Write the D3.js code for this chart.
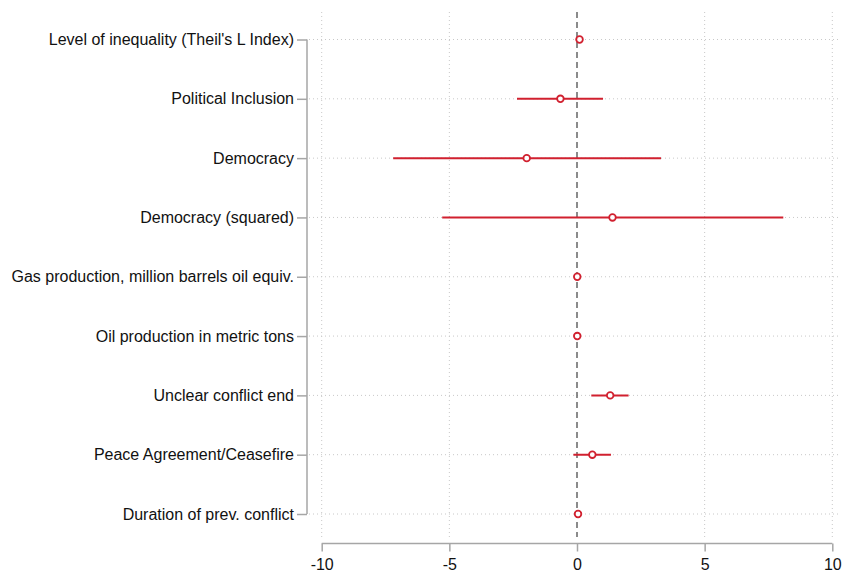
<!DOCTYPE html>
<html>
<head>
<meta charset="utf-8">
<script src="https://cdn.jsdelivr.net/npm/d3@7"></script>
<style>
  html, body { margin: 0; padding: 0; background: #fff; }
  svg { display: block; font-family: "Liberation Sans", Arial, Helvetica, sans-serif; }
</style>
</head>
<body>
<svg id="chart" width="843" height="573"></svg>
<script>
// Coefficient estimates with 95% confidence intervals
const variables = [
  "Level of inequality (Theil's L Index)",
  "Political Inclusion",
  "Democracy",
  "Democracy (squared)",
  "Gas production, million barrels oil equiv.",
  "Oil production in metric tons",
  "Unclear conflict end",
  "Peace Agreement/Ceasefire",
  "Duration of prev. conflict"
];
const estimates = [0.10, -0.65, -1.97, 1.39, 0.01, 0.01, 1.30, 0.60, 0.04];
const lowerCI   = [-0.05, -2.35, -7.20, -5.28, -0.02, -0.02, 0.56, -0.14, 0.00];
const upperCI   = [0.22, 1.02, 3.29, 8.08, 0.04, 0.04, 2.02, 1.33, 0.08];
const xTicks = [-10, -5, 0, 5, 10];

const svg = d3.select("#chart");
const plot = { left: 309, right: 838, top: 12, bottom: 537 };
const red = "#d1202f";
const gridColor = "#c8c8c8";
const axisColor = "#a6a6a6";
const labelSize = "16px";

const x = d3.scaleLinear().domain([-10, 10]).range([321.7, 832.3]);
const y = d3.scalePoint().domain(variables).range([39.5, 514]);

// grid: vertical
svg.append("g").selectAll("line")
  .data(xTicks.filter(d => d !== 0))
  .join("line")
  .attr("x1", d => x(d)).attr("x2", d => x(d))
  .attr("y1", plot.top).attr("y2", plot.bottom)
  .attr("stroke", gridColor).attr("stroke-width", 1)
  .attr("stroke-dasharray", "1,3");

// grid: horizontal
svg.append("g").selectAll("line")
  .data(variables)
  .join("line")
  .attr("x1", plot.left).attr("x2", plot.right)
  .attr("y1", d => y(d)).attr("y2", d => y(d))
  .attr("stroke", gridColor).attr("stroke-width", 1)
  .attr("stroke-dasharray", "1,3");

// reference line at zero
svg.append("line")
  .attr("x1", x(0)).attr("x2", x(0))
  .attr("y1", plot.top).attr("y2", plot.bottom)
  .attr("stroke", "#666").attr("stroke-width", 1.5)
  .attr("stroke-dasharray", "6,4");

// x axis
const xAxis = svg.append("g")
  .attr("transform", `translate(0,${543.5})`)
  .call(d3.axisBottom(x).tickValues(xTicks).tickSize(8).tickPadding(7).tickFormat(d3.format("d")));
xAxis.select(".domain").attr("stroke", axisColor).attr("stroke-width", 1.5)
  .attr("d", `M${x(-10)},0H${x(10)}`);
xAxis.selectAll(".tick line").attr("stroke", axisColor).attr("stroke-width", 1.5);
xAxis.selectAll(".tick text").attr("fill", "#111").style("font-size", labelSize)
  .text(d => d < 0 ? "-" + Math.abs(d) : d);

// y axis
const yAxis = svg.append("g")
  .attr("transform", `translate(${307},0)`)
  .call(d3.axisLeft(y).tickSize(10).tickPadding(3));
yAxis.select(".domain").attr("stroke", axisColor).attr("stroke-width", 1.5)
  .attr("d", `M0,${y(variables[0])}V${y(variables[variables.length - 1])}`);
yAxis.selectAll(".tick line").attr("stroke", axisColor).attr("stroke-width", 1.5);
yAxis.selectAll(".tick text").attr("fill", "#111").style("font-size", labelSize);

// confidence intervals
const rows = variables.map((v, i) => ({ v, est: estimates[i], lo: lowerCI[i], hi: upperCI[i] }));
svg.append("g").selectAll("line")
  .data(rows)
  .join("line")
  .attr("x1", d => x(d.lo)).attr("x2", d => x(d.hi))
  .attr("y1", d => y(d.v)).attr("y2", d => y(d.v))
  .attr("stroke", red).attr("stroke-width", 2);

// point estimates
svg.append("g").selectAll("circle")
  .data(rows)
  .join("circle")
  .attr("cx", d => x(d.est)).attr("cy", d => y(d.v))
  .attr("r", 3.3)
  .attr("fill", "#fff")
  .attr("stroke", red).attr("stroke-width", 1.8);
</script>
</body>
</html>
